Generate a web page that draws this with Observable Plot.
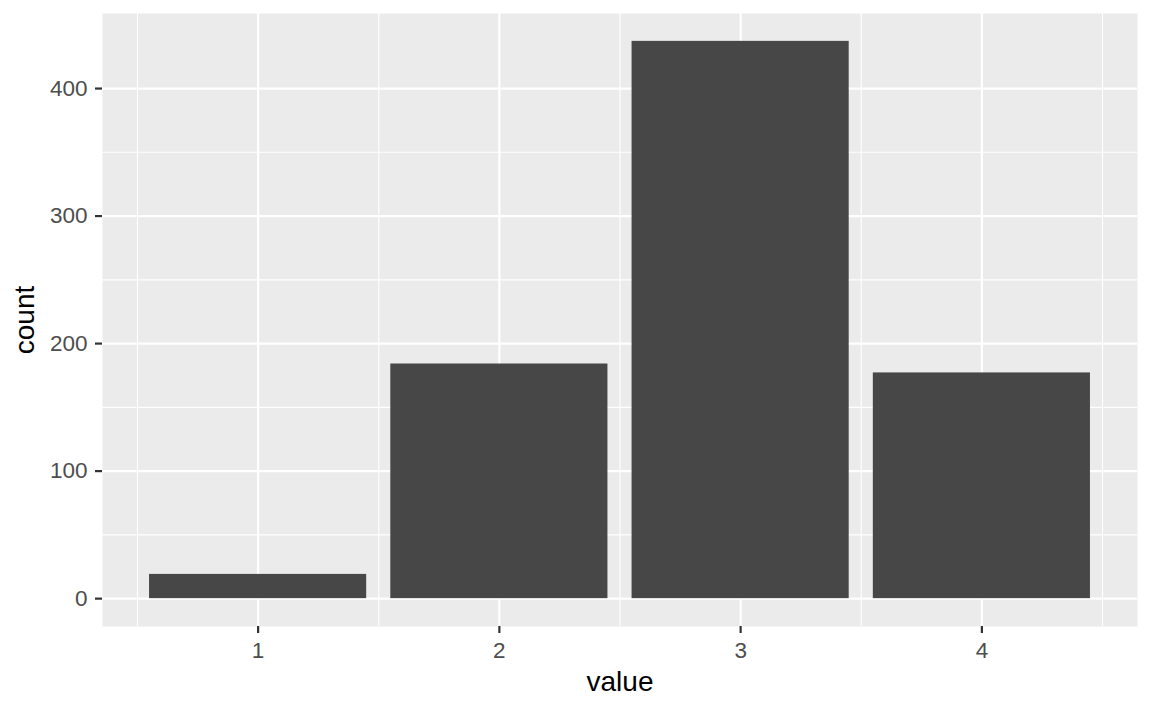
<!DOCTYPE html>
<html>
<head>
<meta charset="utf-8">
<script src="https://cdn.jsdelivr.net/npm/d3@7"></script>
<script src="https://cdn.jsdelivr.net/npm/@observablehq/plot@0.6"></script>
<style>
  html, body { margin: 0; padding: 0; background: #ffffff; }
  #chart svg { display: block; }
</style>
</head>
<body>
<div id="chart"></div>
<script>
  /* ---- Data ---- */
  const values = [1, 2, 3, 4];
  const counts = [19, 184, 437, 177];

  const yMajor = [0, 100, 200, 300, 400];
  const yMinor = [50, 150, 250, 350];
  const xMajor = [1, 2, 3, 4];
  const xMinor = [0.5, 1.5, 2.5, 3.5, 4.5];

  const data = values.map((v, i) => ({ value: v, count: counts[i] }));

  // ggplot-like 5% expansion around the bar extents
  const barWidth = 0.9;
  const xlo = d3.min(values) - barWidth / 2, xhi = d3.max(values) + barWidth / 2;
  const ylo = 0, yhi = d3.max(counts);
  const xpad = (xhi - xlo) * 0.05, ypad = (yhi - ylo) * 0.05;

  const chart = Plot.plot({
    width: 1152,
    height: 711,
    marginLeft: 102,
    marginRight: 15,
    marginTop: 13,
    marginBottom: 85,
    style: {
      background: '#ffffff',
      fontFamily: "'Liberation Sans', Arial, sans-serif",
      overflow: 'visible'
    },
    x: { type: 'linear', domain: [xlo - xpad, xhi + xpad] },
    y: { type: 'linear', domain: [ylo - ypad, yhi + ypad] },
    marks: [
      Plot.frame({ fill: '#EBEBEB', stroke: null }),
      Plot.gridY(yMinor, { stroke: '#ffffff', strokeOpacity: 1, strokeWidth: 1.1 }),
      Plot.gridX(xMinor, { stroke: '#ffffff', strokeOpacity: 1, strokeWidth: 1.1 }),
      Plot.gridY(yMajor, { stroke: '#ffffff', strokeOpacity: 1, strokeWidth: 2.2 }),
      Plot.gridX(xMajor, { stroke: '#ffffff', strokeOpacity: 1, strokeWidth: 2.2 }),
      Plot.rectY(data, {
        x1: d => d.value - barWidth / 2,
        x2: d => d.value + barWidth / 2,
        y1: 0,
        y2: 'count',
        fill: '#474747'
      }),
      Plot.axisY(yMajor, {
        tickSize: 7,
        tickPadding: 8,
        stroke: '#333333',
        strokeWidth: 2.2,
        fill: '#4D4D4D',
        label: 'count',
        labelAnchor: 'center',
        labelArrow: 'none',
        labelOffset: 88,
        tickFormat: d => String(d)
      }),
      Plot.axisX(xMajor, {
        tickSize: 7,
        tickPadding: 9,
        stroke: '#333333',
        strokeWidth: 2.2,
        fill: '#4D4D4D',
        label: 'value',
        labelAnchor: 'center',
        labelArrow: 'none',
        labelOffset: 64,
        tickFormat: d => String(d)
      })
    ]
  });

  // ggplot sizes: tick labels grey, axis titles larger and black
  chart.querySelectorAll('text').forEach(t => {
    t.style.fontSize = '22.5px';
  });
  chart.querySelectorAll('text').forEach(t => {
    const s = t.textContent.trim();
    if (s === 'count' || s === 'value') {
      t.style.fontSize = '28px';
      t.style.fill = '#000000';
    }
  });

  document.getElementById('chart').appendChild(chart);
</script>
</body>
</html>
